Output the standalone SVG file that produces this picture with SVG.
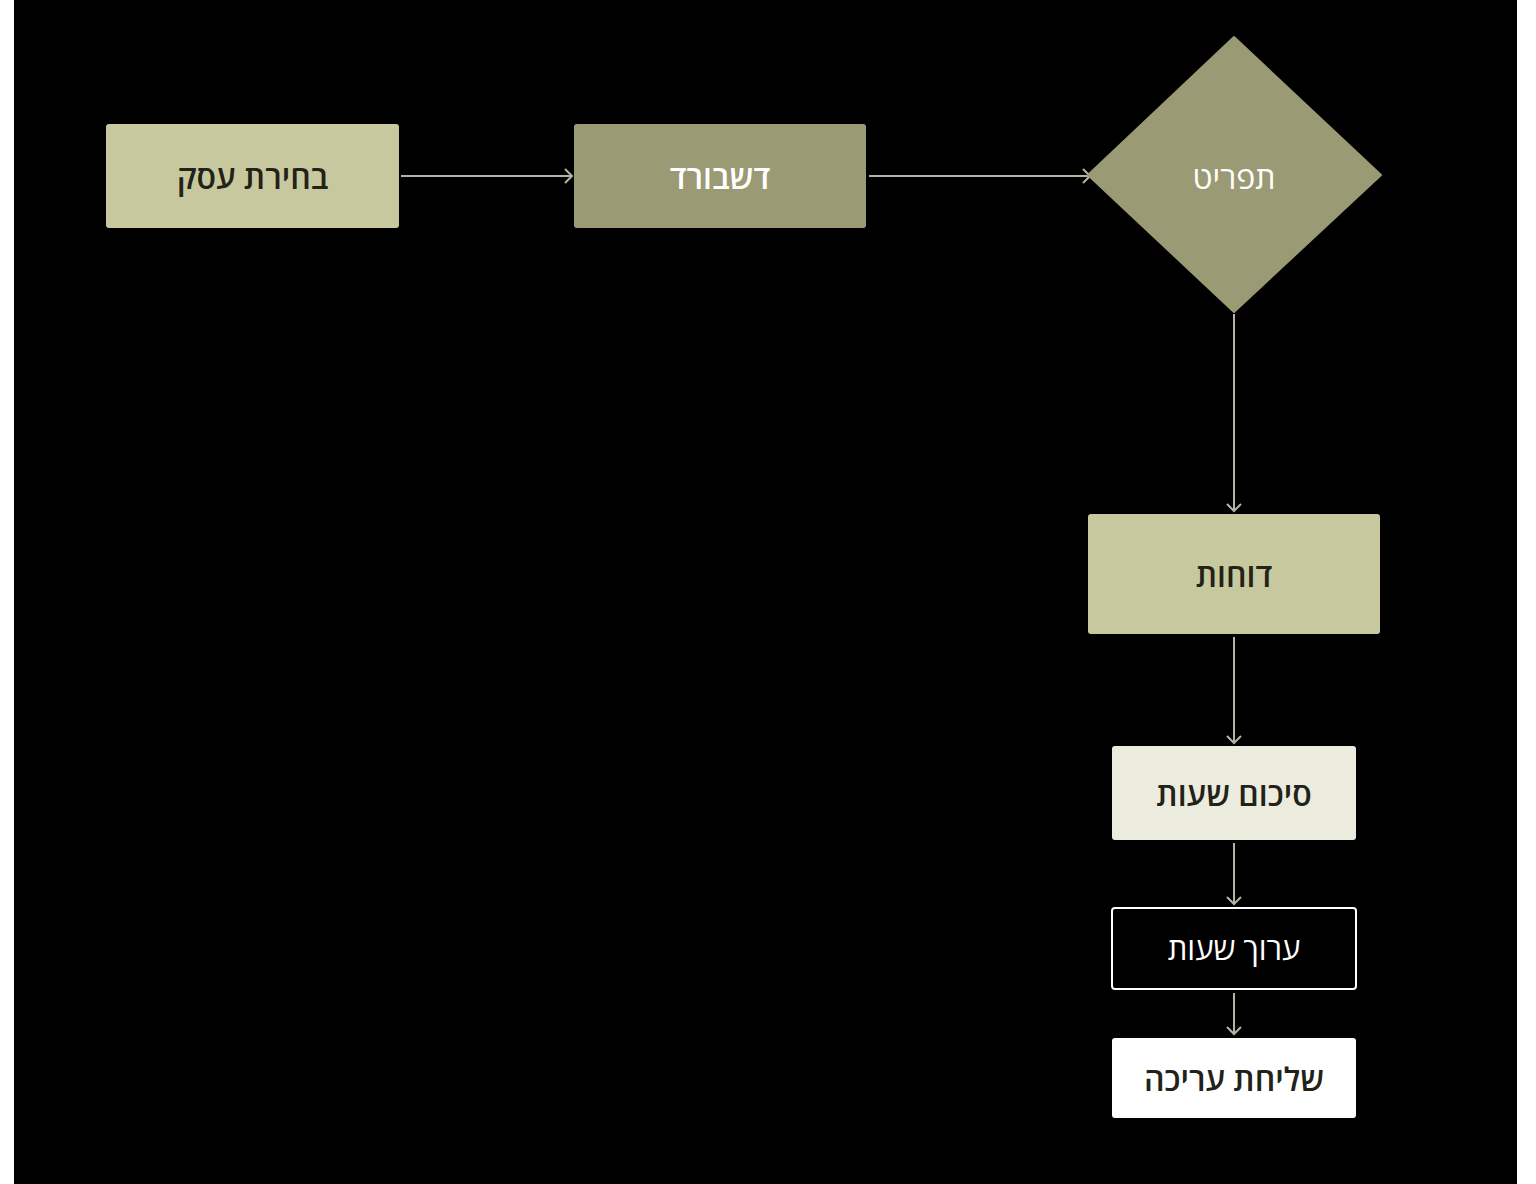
<svg xmlns="http://www.w3.org/2000/svg" width="1536" height="1184" viewBox="0 0 1536 1184">
<style>
.t{font-family:"Open Sans","Noto Sans","DejaVu Sans",sans-serif;font-size:32px;text-anchor:middle;dominant-baseline:central}
.d{fill:#222218;font-weight:600}
.w{fill:#ffffff;font-weight:600}
.c{stroke:#B4B4A6;stroke-width:2;fill:none}
</style>
<defs>
<marker id="a" markerWidth="12" markerHeight="16" refX="10" refY="8" orient="auto" markerUnits="userSpaceOnUse">
<path d="M3,1 L10,8 L3,15" fill="none" stroke="#B4B4A6" stroke-width="2"/>
</marker>
</defs>
<rect width="1536" height="1184" fill="#ffffff"/>
<rect x="14" y="0" width="1503" height="1184" fill="#000000"/>
<g id="connectors">
<line class="c" x1="401" y1="176" x2="572" y2="176" marker-end="url(#a)"/>
<line class="c" x1="869" y1="176" x2="1090" y2="176" marker-end="url(#a)"/>
<line class="c" x1="1234" y1="314" x2="1234" y2="511" marker-end="url(#a)"/>
<line class="c" x1="1234" y1="637" x2="1234" y2="743" marker-end="url(#a)"/>
<line class="c" x1="1234" y1="843" x2="1234" y2="904" marker-end="url(#a)"/>
<line class="c" x1="1234" y1="993" x2="1234" y2="1034" marker-end="url(#a)"/>
</g>
<g id="n1">
<rect x="106" y="124" width="293" height="104" rx="3" fill="#C8C89E"/>
<text class="t d" x="252.5" y="176">בחירת עסק</text>
</g>
<g id="n2">
<rect x="574" y="124" width="292" height="104" rx="3" fill="#9A9A74"/>
<text class="t w" x="720" y="176">דשבורד</text>
</g>
<g id="n3">
<path d="M1234,37 L1381,175 L1234,312 L1088,175 Z" fill="#9A9A74" stroke="#9A9A74" stroke-width="2" stroke-linejoin="round"/>
<text class="t" x="1234" y="176" style="fill:#ffffff;font-weight:500">תפריט</text>
</g>
<g id="n4">
<rect x="1088" y="514" width="292" height="120" rx="3" fill="#C8C89E"/>
<text class="t d" x="1234" y="574">דוחות</text>
</g>
<g id="n5">
<rect x="1112" y="746" width="244" height="94" rx="3" fill="#EBEBDE"/>
<text class="t d" x="1234" y="793">סיכום שעות</text>
</g>
<g id="n6">
<rect x="1112" y="908" width="244" height="81" rx="3" fill="#000000" stroke="#ffffff" stroke-width="2"/>
<text class="t" x="1234" y="948" style="fill:#ffffff;font-weight:400;font-size:31px">ערוך שעות</text>
</g>
<g id="n7">
<rect x="1112" y="1038" width="244" height="80" rx="3" fill="#ffffff"/>
<text class="t d" x="1234" y="1078">שליחת עריכה</text>
</g>
</svg>
